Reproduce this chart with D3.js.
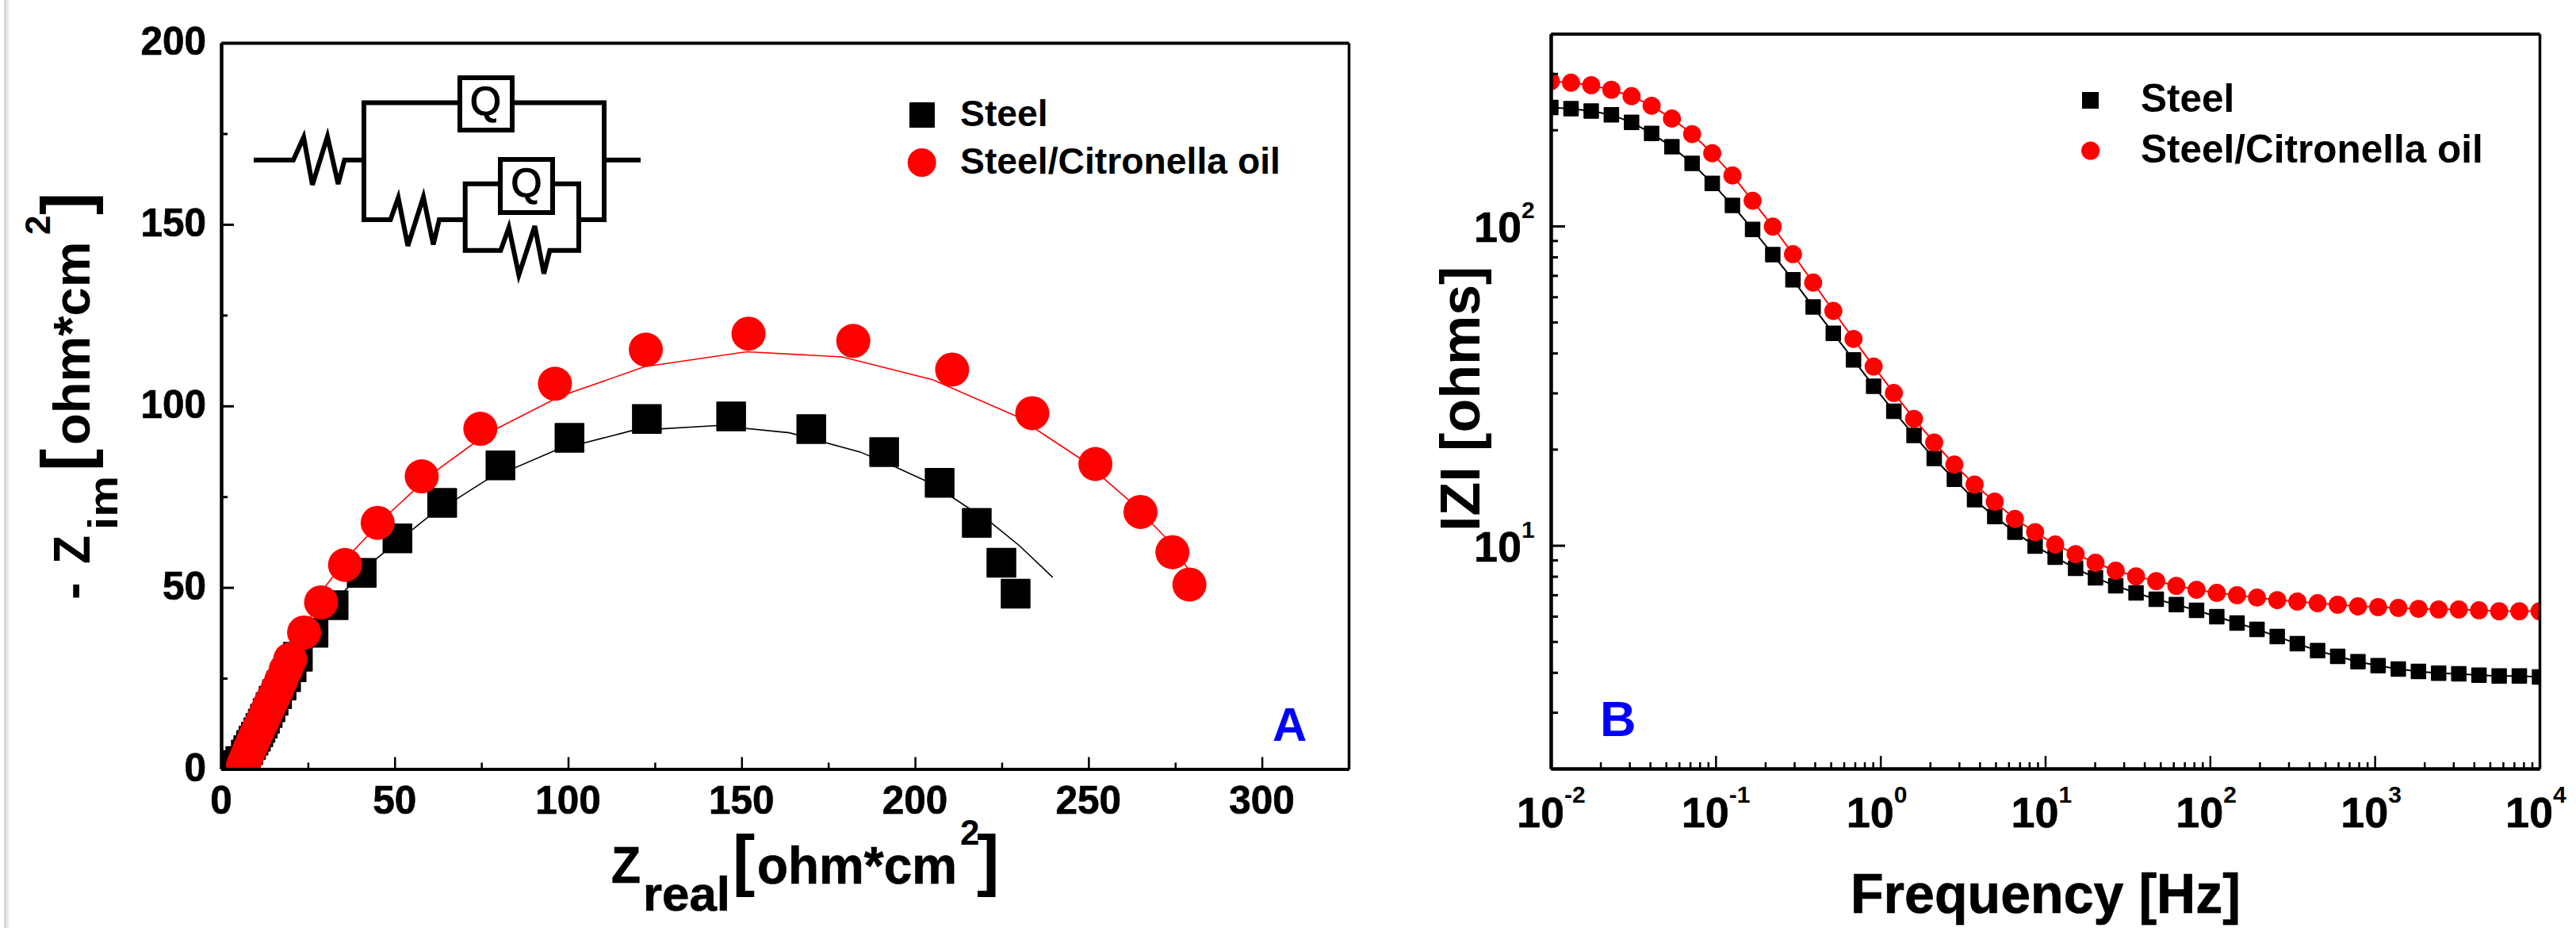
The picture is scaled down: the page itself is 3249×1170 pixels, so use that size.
<!DOCTYPE html>
<html><head><meta charset="utf-8">
<script src="https://cdn.jsdelivr.net/npm/d3@7"></script>
<style>html,body{margin:0;background:#fff}svg{display:block}text{font-family:"Liberation Sans",Arial,sans-serif;font-weight:bold;fill:#000}</style>
</head><body><svg id="c" width="3249" height="1170"></svg>
<script>
// ---- Panel A: Nyquist
const steelRe=[1,2.5,4,5.5,7.1,7.8,8.6,9.3,10,10.7,11.3,12,12.6,13.4,14.2,15.1,16.1,17.4,18.7,20.3,22.1,26.6,32.4,40.5,50.8,63.7,80.5,100.4,122.7,147,170.1,191.1,207.1,217.8,224.9,229];
const steelIm=[0,.4,1.1,2.2,4,5.2,6.6,7.8,8.9,10.1,11.3,12.5,13.8,15.4,17,18.8,20.6,23,25.3,28,30.9,37.5,45.1,54,63.5,73.3,83.6,91.2,96.4,97.1,93.6,87.3,78.8,67.8,56.8,48.3];
const oilRe=[6.3,6.8,7.3,7.8,8.2,8.7,9.2,9.7,10.3,10.9,11.5,12.1,12.7,13.3,13.9,14.5,15.1,16.2,17.3,18.6,19.9,23.9,28.8,35.7,45.1,57.8,74.7,96.2,122.4,152,182.2,210.7,233.8,252,265,274.2,279.1];
const oilIm=[1.1,2.2,3.3,4.4,5.5,6.5,7.6,8.8,10,11.2,12.4,13.6,14.9,16.2,17.5,18.6,19.8,22,24.4,27.3,30.2,37.6,45.9,56.2,67.8,80.6,93.7,106.1,115.5,119.9,117.9,110,98,84,70.8,59.7,50.8];
const steelFitRe=[10,18,26,36,45.1,59.5,76.3,96.2,118.4,143,163.8,184.2,194.1,203.2,211.1,222.1,230.1,239.7];
const steelFitIm=[8,26,38,49.5,58.2,69.3,79.5,87.7,93.2,94.6,92.6,87.3,83.3,79.3,74.6,67.7,61.5,52.8];
const oilFitRe=[8,15,22,29.4,37,47.4,60.6,76.7,97.6,122.1,151.5,179,205.1,229.1,248.1,262.3,272.7,279.1];
const oilFitIm=[5,20,34,49.5,59,69.5,81.2,92.4,102.6,110.8,114.9,113.5,107.2,97.2,85.2,73.5,63.3,54.6];
const aXMajor=[0,50,100,150,200,250,300], aXMinor=[25,75,125,175,225,275];
const aYMajor=[0,50,100,150,200], aYMinor=[25,75,125,175];
// ---- Panel B: Bode
const freq=[0.01,0.01326,0.01758,0.0233,0.0309,0.0409,0.0543,0.072,0.0954,0.1265,0.1677,0.2223,0.2947,0.3907,0.518,0.687,0.91,1.207,1.6,2.121,2.812,3.728,4.942,6.55,8.69,11.5,15.3,20.2,26.8,35.6,47.2,62.5,82.9,110,146,193,256,339,450,596,791,1048,1390,1842,2442,3237,4292,5690,7543,10000];
const steelZ=[235,233,229,223,211,195,177,157,136,116,97.6,81.4,67.8,55.8,46.1,38.1,31.5,26.3,22.1,18.7,16.1,13.9,12.3,11,9.94,9.18,8.47,7.91,7.47,7.1,6.78,6.52,6.26,5.98,5.71,5.46,5.18,4.92,4.68,4.49,4.32,4.2,4.1,4.03,3.98,3.96,3.92,3.9,3.9,3.87];
const oilZ=[284,281,276,267,255,238,217,194,169,144,120,99.6,81.6,66.5,54.2,44.3,36.3,30,24.9,21,17.9,15.5,13.7,12.1,11,10.06,9.39,8.82,8.33,8,7.73,7.47,7.26,7.1,6.98,6.86,6.74,6.67,6.59,6.52,6.44,6.41,6.37,6.33,6.3,6.3,6.26,6.22,6.22,6.22];
const bXMajor=[1e-2,1e-1,1,10,100,1000,10000], bXExp=["-2","-1","0","1","2","3","4"];
const bYMajor=[10,100], bYExp=["1","2"];
const bXMinor=[], bYMinor=[];
bXMajor.slice(0,-1).forEach(d=>[2,3,4,5,6,7,8,9].forEach(k=>bXMinor.push(d*k)));
[2,3,4,5,6,7,8,9,20,30,40,50,60,70,80,90,200,300,400].forEach(d=>bYMinor.push(d));
const legendLabels=["Steel","Steel/Citronella oil"];

const svg=d3.select("#c");
const defs=svg.append("defs");
const g=defs.append("linearGradient").attr("id","edge");
g.append("stop").attr("offset",0).attr("stop-color","#cfcfcf");
g.append("stop").attr("offset",1).attr("stop-color","#fff");
svg.append("rect").attr("x",5).attr("y",0).attr("width",8).attr("height",1170).attr("fill","url(#edge)");

function clip(id,x0,y0,x1,y1){defs.append("clipPath").attr("id",id).append("rect").attr("x",x0).attr("y",y0).attr("width",x1-x0).attr("height",y1-y0);}
function txt(s,x,y,size,o={}){
  const t=svg.append("text").attr("font-size",size).attr("text-anchor",o.anchor||"start");
  if(o.rot) t.attr("transform",`translate(${x},${y}) rotate(-90)`); else t.attr("x",x).attr("y",y);
  if(o.len) t.attr("textLength",o.len).attr("lengthAdjust","spacingAndGlyphs");
  if(o.fill) t.style("fill",o.fill);
  if(o.heavy) t.style("stroke",o.fill||"#000").style("stroke-width",o.heavy);
  if(o.weight) t.style("font-weight",o.weight);
  t.text(s);return t;
}
function styleAxis(a,w,tw){a.selectAll(".domain").attr("stroke","#000").attr("stroke-width",w);a.selectAll(".tick line").attr("stroke","#000").attr("stroke-width",tw);a.selectAll(".tick text").remove();}
function ax(gen,scale,vals,size,tx,ty,w,tw){
  const a=svg.append("g").attr("transform",`translate(${tx},${ty})`).call(gen(scale).tickValues(vals).tickSize(size).tickSizeOuter(0).tickFormat(""));
  styleAxis(a,w,tw);return a;
}
function frame(x,y,xMaj,xMin,yMaj,yMin,xM,xm,yM,ym,tw){
  const [l,r]=x.range(),[b,t]=y.range();
  ax(d3.axisTop,x,xMin,xm,0,b,4,tw);
  ax(d3.axisTop,x,xMaj,xM,0,b,4,tw);
  ax(d3.axisRight,y,yMin,ym,l,0,4,tw+.5);
  ax(d3.axisRight,y,yMaj,yM,l,0,4,tw+.5);
  ax(d3.axisBottom,x,[],0,0,t,4,0);
  ax(d3.axisLeft,y,[],0,r,0,3.5,0);
}
function series(id,x,y,xs,ys,fx,fy,color,lw,shape,size){
  const gg=svg.append("g").attr("clip-path",`url(#${id})`);
  gg.append("path").attr("fill","none").attr("stroke",color).attr("stroke-width",lw)
    .attr("d",d3.line().x(i=>x(fx[i])).y(i=>y(fy[i]))(d3.range(fx.length)));
  const pts=d3.range(xs.length);
  if(shape==="sq") gg.selectAll("rect").data(pts).join("rect").attr("x",i=>x(xs[i])-size/2).attr("y",i=>y(ys[i])-size/2)
    .attr("width",size).attr("height",size).attr("rx",1).attr("fill",color);
  else gg.selectAll("circle").data(pts).join("circle").attr("cx",i=>x(xs[i])).attr("cy",i=>y(ys[i])).attr("r",size).attr("fill",color);
}

// Panel A
const xA=d3.scaleLinear().domain([0,325]).range([279,1701]);
const yA=d3.scaleLinear().domain([0,200]).range([969.5,54]);
clip("ca",279,54,1701,969.5);
series("ca",xA,yA,steelRe,steelIm,steelFitRe,steelFitIm,"#000",1.6,"sq",37.5);
series("ca",xA,yA,oilRe,oilIm,oilFitRe,oilFitIm,"#f00",1.6,"ci",21.5);
frame(xA,yA,aXMajor,aXMinor,aYMajor,aYMinor,15,8,16,8,2.5);
aXMajor.forEach(v=>txt(v,xA(v),1026,49.5,{anchor:"middle",heavy:.7}));
aYMajor.forEach(v=>txt(v,260,yA(v)+15,49.5,{anchor:"end",heavy:.7}));
// x title A
txt("Z",771,1113,64,{len:37,heavy:.7});
txt("real",811,1148,62,{len:110,heavy:.7});
txt("[",924,1113,85);
txt("ohm*cm",955,1114,67,{len:252,heavy:.7});
txt("2",1211,1065,44);
txt("]",1232,1113,85);
// y title A
txt("-",113,756,65,{rot:1});
txt("Z",113,711,65,{rot:1,len:36});
txt("im",148,668,52,{rot:1,len:68});
txt("[",112,594,85,{rot:1});
txt("ohm*cm",113,561,65,{rot:1});
txt("2",63,296,44,{rot:1});
txt("]",112,271,85,{rot:1});
// legend A
svg.append("rect").attr("x",1147).attr("y",129).attr("width",32).attr("height",32).attr("rx",1);
svg.append("circle").attr("cx",1162.7).attr("cy",205).attr("r",18).attr("fill","#f00");
txt(legendLabels[0],1211,159,46.3);
txt(legendLabels[1],1211,219,46.3);
txt("A",1605,934,60,{fill:"#00f"});

// circuit inset
const wire=d3.line();
const cg=svg.append("g").attr("fill","none").attr("stroke","#000").attr("stroke-width",6).attr("stroke-linejoin","miter");
[
 [[320,201.7],[370,201.7],[383,173],[394,233],[413,172],[426.5,232],[434.5,201.7],[459,201.7]],
 [[578,129.5],[459,129.5],[459,277],[492.5,277],[502.3,249.3],[514.4,310],[534,248.3],[546.5,308.3],[554,277],[586.7,277]],
 [[648,129.5],[762,129.5],[762,277],[730,277]],
 [[762,201.7],[808,201.7]],
 [[630,231.7],[586.7,231.7],[586.7,315.7],[631.5,315.7],[641.8,286.7],[654.4,346.7],[674.5,285],[686,345],[693.4,315.7],[730,315.7],[730,231.7],[698,231.7]]
].forEach(p=>cg.append("path").attr("d",wire(p)));
[[580,98,66,66],[631,201,66,67]].forEach(b=>cg.append("rect").attr("x",b[0]).attr("y",b[1]).attr("width",b[2]).attr("height",b[3]));
txt("Q",612.5,145,50,{anchor:"middle",weight:"normal",heavy:1.5});
txt("Q",664,248,50,{anchor:"middle",weight:"normal",heavy:1.5});

// Panel B
const xB=d3.scaleLog().domain([1e-2,1e4]).range([1956,3203]);
const yB=d3.scaleLog().domain([2,400]).range([969,42.5]);
clip("cb",1956,43,3203,969);
series("cb",xB,yB,freq,steelZ,freq,steelZ,"#000",2,"sq",19.5);
series("cb",xB,yB,freq,oilZ,freq,oilZ,"#f00",2,"ci",11.4);
frame(xB,yB,bXMajor,bXMinor,bYMajor,bYMinor,16,8,18,9,2.5);
bXMajor.forEach((v,i)=>{
  txt("10",xB(v)-43,1043,54,{heavy:.6});
  txt(bXExp[i],xB(v)+17,1012,30);
});
bYMajor.forEach((v,i)=>{
  txt("10",1859,yB(v)+20,54,{heavy:.6});
  txt(bYExp[i],1919,yB(v)-10,30);
});
txt("Frequency [Hz]",2580,1151,70,{anchor:"middle",len:492,heavy:.7});
txt("IZI [ohms]",1866,670,70,{rot:1});
// legend B
svg.append("rect").attr("x",2626).attr("y",116).attr("width",21).attr("height",21);
svg.append("circle").attr("cx",2636.7).attr("cy",190).attr("r",11.6).attr("fill","#f00");
txt(legendLabels[0],2700,141,49.5);
txt(legendLabels[1],2700,205,49.5);
txt("B",2018,928,63,{fill:"#00f"});
</script></body></html>
